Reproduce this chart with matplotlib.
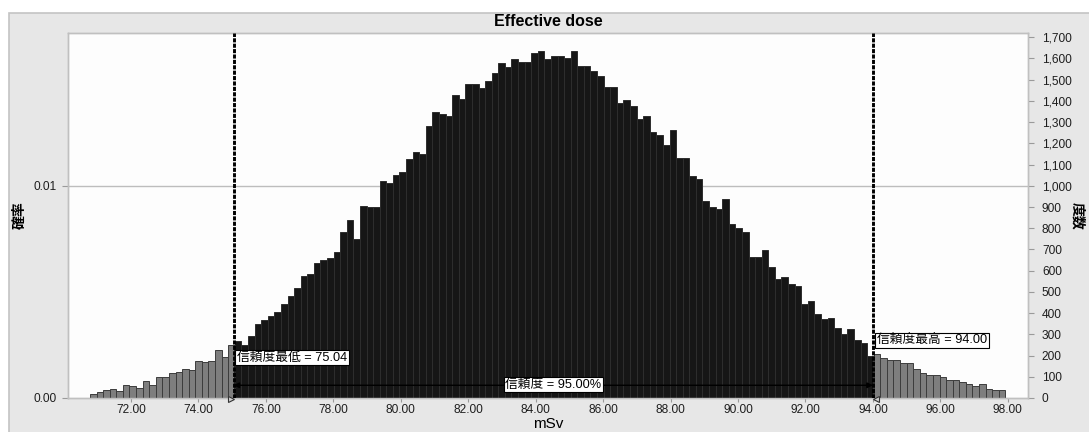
import numpy as np
import matplotlib
matplotlib.use('Agg')
import matplotlib.pyplot as plt
from matplotlib.patches import Rectangle

plt.rcParams['font.family'] = ['Liberation Sans', 'Noto Sans CJK JP']

# frequency per bin (left to right)
freq = [20, 30, 38, 42, 31, 63, 55, 49, 79, 63,
        101, 101, 119, 123, 137, 130, 176, 171, 176, 228,
        193, 248, 270, 248, 291, 347, 369, 388, 406, 445,
        483, 519, 574, 583, 637,
        652, 660, 689, 780, 838, 748, 905, 901, 898, 1022,
        1011, 1050, 1066, 1126, 1157, 1149, 1283, 1350, 1336, 1328,
        1427, 1407, 1482, 1482, 1462, 1495, 1533, 1577, 1561, 1599,
        1585, 1585, 1624, 1635, 1597,
        1611, 1611, 1600, 1635, 1564, 1564, 1542, 1518, 1464, 1464,
        1391, 1404, 1376, 1314, 1328, 1254, 1239, 1192, 1263, 1129,
        1132, 1047, 1031, 929, 901, 890, 937, 822, 799, 783,
        665, 665, 696, 618, 563,
        568, 539, 527, 445, 458, 395, 374, 379, 330, 303,
        327, 272, 261, 197,
        209, 189, 178, 178, 165, 165, 138, 118, 107, 110,
        99, 86, 86, 75, 68, 55, 64, 44, 39, 36]
x_min, x_max = 70.78, 97.93
trials = 100000
ci_low, ci_high = 75.04, 94.00
certainty = 95.00

x_ticks = [72, 74, 76, 78, 80, 82, 84, 86, 88, 90, 92, 94, 96, 98]
freq_ticks = list(range(0, 1800, 100))
prob_ticks = [0.00, 0.01]

title = 'Effective dose'
x_label = 'mSv'
left_label = '確率'
right_label = '度数'

###########################################################
W, H = 1089, 432
fig = plt.figure(figsize=(W / 100, H / 100), dpi=100)
fig.patch.set_facecolor('white')

# gray panel behind everything
fig.add_artist(Rectangle((9 / W, -0.01), 1.0, 1 - 13 / H + 0.01, transform=fig.transFigure,
                         facecolor='#e7e7e7', edgecolor='#c4c4c4', lw=1.2, zorder=-10))

ax = fig.add_axes([68 / W, 1 - 398 / H, 960 / W, 365 / H])
ax2 = ax.twinx()
ax.set_facecolor('#fdfdfd')

f_top = 1720
ax2.set_ylim(0, f_top)
ax.set_ylim(0, f_top / trials)
ax.set_xlim(70.13, 98.6)

# gridline at 0.01 (behind bars)
ax.axhline(0.01, color='#bdbdbd', lw=1, zorder=0)

# bars, split at the certainty limits
edges = np.linspace(x_min, x_max, len(freq) + 1)
for i, h in enumerate(freq):
    l, r = edges[i], edges[i + 1]
    parts = [(l, min(r, ci_low), '#7e7e7e'),
             (max(l, ci_low), min(r, ci_high), '#161616'),
             (max(l, ci_high), r, '#7e7e7e')]
    for a, b, c in parts:
        if b - a > 1e-9:
            ec = '#3c3c3c' if c != '#161616' else '#2e2e2e'
            ax2.bar(a, h, width=b - a, align='edge', color=c, edgecolor=ec, lw=0.7, zorder=2)

# certainty grabbers
for v in (ci_low, ci_high):
    ax2.axvline(v, color='black', lw=2.1, ls=(0, (1.4, 0.45)), zorder=4)
ax2.plot([ci_low - 0.09], [-4], marker='>', ms=5, mfc='#cfcfcf', mec='#333333', mew=0.8,
         clip_on=False, zorder=5)
ax2.plot([ci_high + 0.09], [-4], marker='<', ms=5, mfc='#cfcfcf', mec='#333333', mew=0.8,
         clip_on=False, zorder=5)

# certainty range arrow and labels
ax2.annotate('', xy=(ci_low, 60), xytext=(ci_high, 60),
             arrowprops=dict(arrowstyle='<|-|>', color='black', lw=1.0, mutation_scale=8,
                             shrinkA=0, shrinkB=0), zorder=5)
box = dict(boxstyle='square,pad=0.12', fc='white', ec='black', lw=0.8)
ax2.text((ci_low + ci_high) / 2, 62, f'信頼度 = {certainty:.2f}%', ha='center', va='center',
         fontsize=9.2, bbox=box, zorder=6)
ax2.text(ci_low + 0.1, 190, f'信頼度最低 = {ci_low:.2f}', ha='left', va='center',
         fontsize=9.2, bbox=box, zorder=6)
ax2.text(ci_high + 0.12, 272, f'信頼度最高 = {ci_high:.2f}', ha='left', va='center',
         fontsize=9.2, bbox=box, zorder=6)

# axes styling
ax.set_xticks(x_ticks)
ax.set_xticklabels([f'{t:.2f}' for t in x_ticks])
ax.set_yticks(prob_ticks)
ax.set_yticklabels([f'{t:.2f}' for t in prob_ticks])
ax2.set_yticks(freq_ticks)
ax2.set_yticklabels([f'{t:,}' for t in freq_ticks])
for a in (ax, ax2):
    a.tick_params(axis='both', length=4, width=0.8, color='#9a9a9a', labelsize=8.6,
                  labelcolor='#1e1e1e', pad=4)
    for s in a.spines.values():
        s.set_color('#c0c0c0')
        s.set_linewidth(1.0)
ax.tick_params(axis='x', length=3, pad=1.5)
ax2.tick_params(axis='y', pad=6)

ax.set_ylabel(left_label, fontsize=10, fontweight='bold', rotation=90, va='center')
ax.yaxis.set_label_coords(-0.05, 0.5)
ax2.set_ylabel(right_label, fontsize=10, fontweight='bold', rotation=270, va='center')
ax2.yaxis.set_label_coords(1.051, 0.5)

fig.text(548 / W, 1 - 21 / H, title, ha='center', va='center', fontsize=11.5, fontweight='bold')
fig.text(548 / W, 1 - 424 / H, x_label, ha='center', va='center', fontsize=11)

fig.savefig('out.png', dpi=100)
